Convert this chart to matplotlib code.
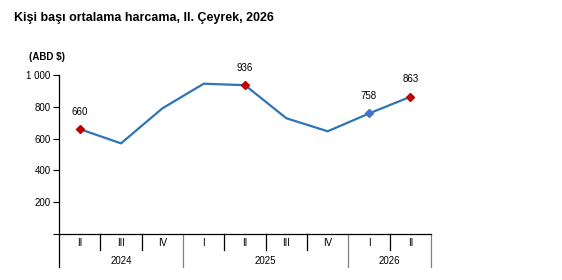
import matplotlib
matplotlib.use("Agg")
import matplotlib.pyplot as plt
from matplotlib.lines import Line2D

quarters = ["II", "III", "IV", "I", "II", "III", "IV", "I", "II"]
years = ["2024", "2025", "2026"]
year_spans = [(0, 3), (3, 7), (7, 9)]
values = [660, 570, 790, 945, 936, 728, 646, 758, 863]
labeled = {0: "660", 4: "936", 7: "758", 8: "863"}
marker_colors = {0: "#C00000", 4: "#C00000", 7: "#4472C4", 8: "#C00000"}
yticks = [0, 200, 400, 600, 800, 1000]
ytick_labels = ["", "200", "400", "600", "800", "1 000"]

plt.rcParams['font.family'] = ['Liberation Sans', 'DejaVu Sans']

fig = plt.figure(figsize=(5.62, 2.80), dpi=100)
ax = fig.add_axes([59/562, 1-234/280, (431-59)/562, (234-75)/280])
x = list(range(len(values)))
ax.plot(x, values, color="#2E75B6", lw=1.6, zorder=2)
for i, c in marker_colors.items():
    ax.plot(x[i], values[i], marker="D", ms=4.2, color=c, mec=c, zorder=3)
    ax.annotate(labeled[i], (x[i], values[i]), xytext=(0, 9), textcoords="offset points",
                ha="center", va="bottom", fontsize=7, color="#000000")

ax.set_xlim(-0.5, len(values) - 0.5)
ax.set_ylim(0, 1000)
ax.set_yticks(yticks)
ax.set_yticklabels(ytick_labels, fontsize=7)
ax.tick_params(axis="y", direction="out", length=4, width=0.8, pad=2, colors="#000000")
ax.set_xticks([])
for s in ["top", "right"]:
    ax.spines[s].set_visible(False)
ax.spines["left"].set_linewidth(0.9)
ax.spines["bottom"].set_linewidth(0.9)

# hierarchical category axis
trans = ax.get_xaxis_transform()
px = 1 / 159.0  # one pixel in axes fraction (vertical)
q_depth = -16 * px
y_depth = -33 * px
for i in range(1, len(values)):
    if i in (s for s, e in year_spans):
        continue
    ax.add_line(Line2D([i - 0.5, i - 0.5], [0, q_depth], transform=trans, color="#000000",
                       lw=0.9, clip_on=False))
for k, (s, e) in enumerate(year_spans):
    col = "#000000" if s == 0 else "#808080"
    ax.add_line(Line2D([s - 0.5, s - 0.5], [0, y_depth], transform=trans, color=col,
                       lw=0.9, clip_on=False))
    ax.text((s + e - 1) / 2, -27 * px, years[k], transform=trans, ha="center", va="center",
            fontsize=7)
ax.add_line(Line2D([len(values) - 0.5] * 2, [0, y_depth], transform=trans, color="#808080",
                   lw=0.9, clip_on=False))
for i, q in enumerate(quarters):
    ax.text(i, -9 * px, q, transform=trans, ha="center", va="center", fontsize=7)

fig.text(14/562, 1-18/280, "Kişi başı ortalama harcama, II. Çeyrek, 2026", fontsize=9,
         fontweight="bold", ha="left", va="center")
fig.text(47/562, 1-57/280, "(ABD $)", fontsize=7, fontweight="bold", ha="center", va="center")

fig.savefig("out.png", dpi=100)
